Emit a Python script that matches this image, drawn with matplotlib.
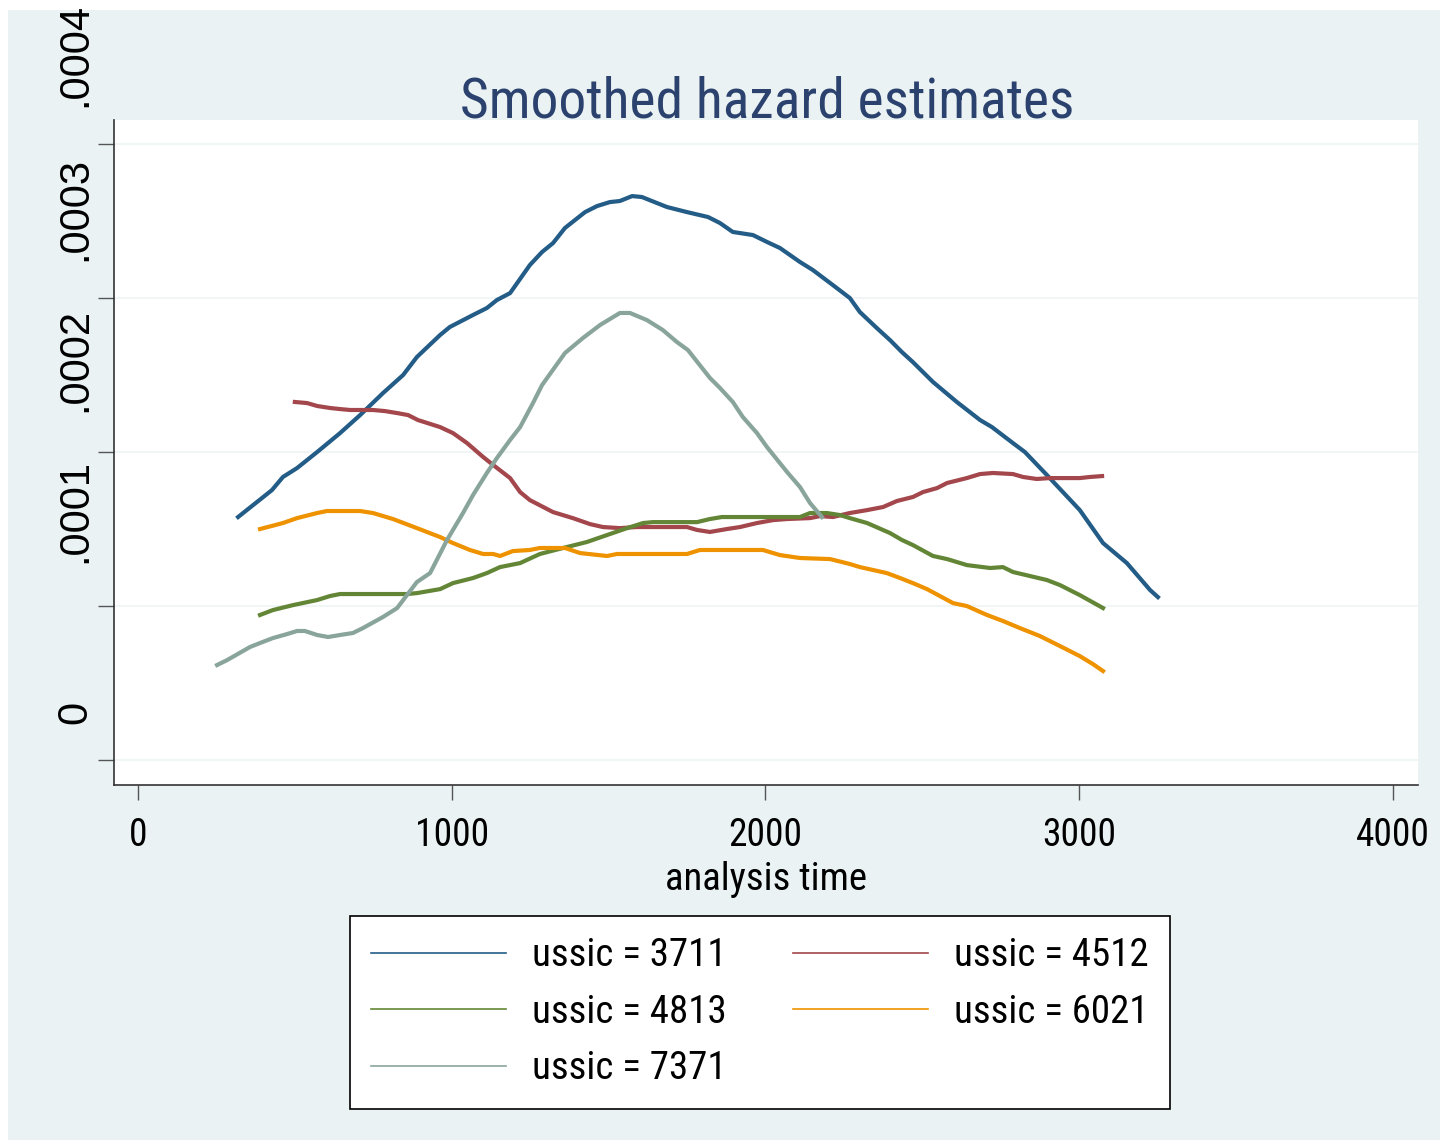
"""Smoothed hazard estimates by ussic group (Stata-style chart)."""

import matplotlib
matplotlib.use("Agg")
import matplotlib.pyplot as plt
import matplotlib.transforms as mtransforms
from matplotlib.lines import Line2D
from matplotlib.patches import Rectangle
import numpy as np

NARROW = ["Roboto Condensed", "Liberation Sans Narrow", "Liberation Sans", "DejaVu Sans"]
REGULAR = ["Liberation Sans", "DejaVu Sans"]

# analysis time / smoothed hazard (in units of 1e-4)
time_3711 = [319, 395, 427, 462, 507, 571, 644, 708, 781, 845, 889, 963, 994, 1068,
             1112, 1144, 1186, 1249, 1288, 1323, 1361, 1425, 1463, 1504, 1536, 1575,
             1606, 1686, 1750, 1817, 1855, 1896, 1960, 2005, 2046, 2110, 2151, 2215,
             2269, 2301, 2355, 2397, 2435, 2470, 2534, 2610, 2684, 2722, 2789, 2827,
             2897, 3002, 3076, 3152, 3226, 3251]
haz_3711 = [1.578, 1.701, 1.753, 1.838, 1.896, 2.0, 2.123, 2.240, 2.383, 2.5, 2.617,
            2.760, 2.812, 2.890, 2.935, 2.987, 3.032, 3.214, 3.299, 3.357, 3.455,
            3.558, 3.597, 3.623, 3.630, 3.662, 3.656, 3.591, 3.558, 3.526, 3.487,
            3.429, 3.409, 3.364, 3.325, 3.234, 3.182, 3.084, 3.0, 2.909, 2.805,
            2.727, 2.649, 2.584, 2.455, 2.325, 2.208, 2.162, 2.058, 2.0, 1.851,
            1.623, 1.409, 1.279, 1.104, 1.058]

time_4512 = [500, 539, 571, 612, 644, 676, 749, 787, 826, 861, 892, 963, 1004, 1049,
             1100, 1132, 1186, 1218, 1249, 1323, 1386, 1441, 1482, 1536, 1590, 1673,
             1750, 1782, 1823, 1877, 1919, 1973, 2024, 2069, 2142, 2174, 2215, 2269,
             2324, 2375, 2419, 2470, 2502, 2547, 2579, 2642, 2684, 2725, 2789, 2821,
             2865, 2907, 3002, 3034, 3073]
haz_4512 = [2.325, 2.318, 2.299, 2.286, 2.279, 2.273, 2.273, 2.266, 2.253, 2.240,
            2.208, 2.162, 2.123, 2.058, 1.968, 1.916, 1.831, 1.740, 1.688, 1.610,
            1.571, 1.532, 1.513, 1.506, 1.513, 1.513, 1.513, 1.494, 1.481, 1.5,
            1.513, 1.539, 1.558, 1.565, 1.571, 1.584, 1.578, 1.604, 1.623, 1.643,
            1.682, 1.708, 1.740, 1.766, 1.799, 1.831, 1.857, 1.864, 1.857, 1.838,
            1.825, 1.831, 1.831, 1.838, 1.844]

time_4813 = [389, 430, 494, 571, 612, 644, 857, 889, 963, 1004, 1068, 1112, 1154,
             1218, 1281, 1355, 1431, 1495, 1559, 1610, 1641, 1782, 1823, 1861, 2110,
             2142, 2196, 2237, 2269, 2324, 2397, 2435, 2470, 2534, 2579, 2642, 2716,
             2757, 2789, 2897, 2939, 3002, 3076]
haz_4813 = [0.942, 0.974, 1.006, 1.039, 1.065, 1.078, 1.078, 1.084, 1.110, 1.149,
            1.182, 1.214, 1.253, 1.279, 1.338, 1.377, 1.416, 1.461, 1.506, 1.539,
            1.545, 1.545, 1.565, 1.578, 1.578, 1.604, 1.604, 1.591, 1.571, 1.539,
            1.474, 1.429, 1.396, 1.325, 1.305, 1.266, 1.247, 1.253, 1.221, 1.169,
            1.136, 1.071, 0.987]

time_6021 = [389, 462, 507, 571, 602, 708, 749, 813, 889, 963, 1004, 1058, 1100,
             1132, 1154, 1195, 1249, 1281, 1361, 1409, 1495, 1527, 1750, 1791, 1992,
             2046, 2110, 2206, 2269, 2301, 2387, 2429, 2470, 2515, 2556, 2598, 2642,
             2706, 2757, 2811, 2875, 2939, 3002, 3044, 3076]
haz_6021 = [1.5, 1.539, 1.571, 1.604, 1.617, 1.617, 1.604, 1.565, 1.506, 1.448,
            1.409, 1.364, 1.338, 1.338, 1.325, 1.357, 1.364, 1.377, 1.377, 1.344,
            1.325, 1.338, 1.338, 1.364, 1.364, 1.331, 1.312, 1.305, 1.273, 1.253,
            1.214, 1.182, 1.149, 1.110, 1.065, 1.019, 1.0, 0.942, 0.903, 0.857,
            0.805, 0.740, 0.675, 0.623, 0.578]

time_7371 = [252, 284, 357, 389, 430, 475, 507, 532, 571, 606, 644, 685, 717, 781,
             826, 889, 931, 985, 1036, 1068, 1112, 1144, 1186, 1218, 1259, 1288,
             1361, 1418, 1473, 1536, 1568, 1622, 1673, 1718, 1753, 1823, 1855, 1896,
             1928, 1973, 2005, 2069, 2110, 2142, 2180]
haz_7371 = [0.617, 0.649, 0.734, 0.760, 0.792, 0.818, 0.838, 0.838, 0.812, 0.799,
            0.812, 0.825, 0.857, 0.929, 0.987, 1.156, 1.214, 1.429, 1.604, 1.721,
            1.864, 1.961, 2.078, 2.162, 2.318, 2.435, 2.643, 2.740, 2.825, 2.903,
            2.903, 2.857, 2.792, 2.714, 2.662, 2.481, 2.416, 2.325, 2.227, 2.123,
            2.032, 1.870, 1.773, 1.669, 1.578]

groups = ["3711", "4512", "4813", "6021", "7371"]
times = [time_3711, time_4512, time_4813, time_6021, time_7371]
hazards = [haz_3711, haz_4512, haz_4813, haz_6021, haz_7371]
colors = ["#235C86", "#A3474C", "#638636", "#EE9200", "#89A59B"]

x_ticks = [0, 1000, 2000, 3000, 4000]
y_ticks = [0, 0.0001, 0.0002, 0.0003, 0.0004]
# tick labels as they appear, drifted off their tick marks
y_label_text = ["0", ".0001", ".0002", ".0003", ".0004"]
y_label_pos = [0.000031, 0.000162, 0.000260, 0.000358, 0.000458]

fig = plt.figure(figsize=(14.44, 11.47), dpi=100, facecolor="white")
fig.patches.append(Rectangle((8 / 1444, 1 - 1140 / 1147), 1432 / 1444, 1130 / 1147,
                             transform=fig.transFigure, facecolor="#EAF2F3",
                             edgecolor="none", zorder=-10))

ax = fig.add_axes([114 / 1444, 1 - 785 / 1147, 1304 / 1444, 665 / 1147])
ax.set_facecolor("white")

for g, t, h, c in zip(groups, times, hazards, colors):
    ax.plot(t, np.array(h) * 1e-4, color=c, lw=3.0, solid_joinstyle="round",
            label=f"ussic = {g}")

ax.set_xlim(-76.5, 4080)
ax.set_ylim(-0.0000162, 0.0004156)

ax.set_xticks(x_ticks)
ax.set_xticklabels([str(v) for v in x_ticks], fontfamily=NARROW, fontsize=27)
ax.tick_params(axis="x", length=11, width=1, color="#555555", pad=12)

ax.set_yticks(y_ticks)
ax.set_yticklabels([])
ax.tick_params(axis="y", length=11.5, width=1, color="#555555")
ax.grid(axis="y", color="#EEF4F5", lw=1.2)
ax.set_axisbelow(True)

trans = mtransforms.blended_transform_factory(ax.transAxes, ax.transData)
for txt, yp in zip(y_label_text, y_label_pos):
    ax.text(-0.0299, yp, txt, transform=trans, rotation=90, ha="center",
            va="center", fontsize=30, fontfamily=REGULAR, clip_on=False)

ax.set_xlabel("analysis time", fontfamily=NARROW, fontsize=28, labelpad=5)

for side in ["top", "right"]:
    ax.spines[side].set_visible(False)
for side in ["left", "bottom"]:
    ax.spines[side].set_color("#333333")
    ax.spines[side].set_linewidth(1.2)

fig.text(767 / 1444, 1 - 117 / 1147, "Smoothed hazard estimates", ha="center",
         va="baseline", fontsize=40, color="#2B416E", fontfamily=NARROW)

handles = [Line2D([], [], color=c, lw=1.2) for c in colors]
labels = [f"ussic = {g}" for g in groups]
# fill order: row by row, two columns
order = [0, 2, 4, 1, 3]
leg = fig.legend([handles[i] for i in order], [labels[i] for i in order],
                 loc="upper left", bbox_to_anchor=(350 / 1444, 1 - 916 / 1147),
                 borderaxespad=0, ncol=2, prop={"family": NARROW, "size": 28},
                 frameon=True, fancybox=False, edgecolor="black", facecolor="white",
                 framealpha=1, handlelength=3.47, handletextpad=0.67,
                 columnspacing=1.7, labelspacing=0.5, borderpad=0.55)
leg.get_frame().set_linewidth(1.2)

fig.savefig("out.png", dpi=100, facecolor="white")
